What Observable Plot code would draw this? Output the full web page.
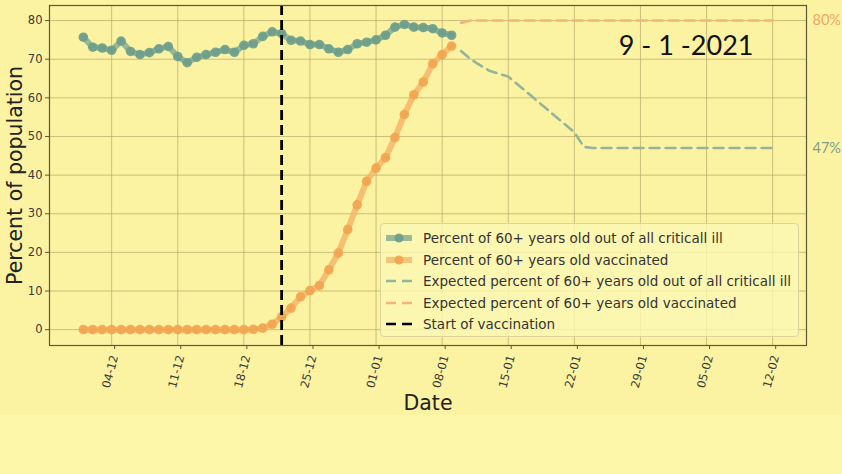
<!DOCTYPE html>
<html><head><meta charset="utf-8">
<script src="https://cdn.jsdelivr.net/npm/d3@7"></script>
<script src="https://cdn.jsdelivr.net/npm/@observablehq/plot@0.6"></script>
<style>
html,body{margin:0;padding:0;background:#fdf7aa;}
#wrap{position:relative;width:842px;height:474px;overflow:hidden;}
#band{position:absolute;left:0;top:0;width:842px;height:415px;background:#fbf3a2;}
#wrap > svg{position:absolute;left:0;top:0;z-index:1;}
#legend{position:absolute;z-index:2;left:380px;top:223px;width:419px;height:114px;box-sizing:border-box;border:1px solid #ddd49c;border-radius:4px;background:rgba(253,248,180,0.8);font-family:"DejaVu Sans";font-size:13.5px;color:#333;}
.row{position:absolute;left:0;height:20px;display:flex;align-items:center;white-space:nowrap;}
.row svg{margin-left:4px;margin-right:10px;}
</style>
</head><body>
<div id="wrap"><div id="band"></div></div>
<script>
// ---- data ----
const startDate = "2020-12-01";
const criticalShare = [75.7,73.1,72.9,72.3,74.7,72.0,71.2,71.7,72.7,73.3,70.7,69.1,70.5,71.2,71.8,72.5,71.8,73.6,74.0,75.9,77.1,76.6,74.9,74.7,73.8,73.8,72.7,71.8,72.5,74.0,74.4,75.0,76.2,78.3,79.0,78.3,78.2,77.9,76.8,76.2];
const vaccinated = [0,0,0,0,0,0,0,0,0,0,0,0,0,0,0,0,0,0,0.1,0.4,1.4,3.3,5.6,8.5,10.1,11.4,15.5,19.8,25.9,32.3,38.4,41.8,44.5,49.7,55.7,60.8,64.1,68.8,71.2,73.4];
const expCriticalDates = ["2021-01-10","2021-01-11","2021-01-13","2021-01-15","2021-01-22","2021-01-23","2021-01-24","2021-02-12"];
const expCritical = [72.1,70.0,67.0,65.5,51.1,47.3,47.0,47.0];
const expVaccDates = ["2021-01-10","2021-01-11","2021-02-12"];
const expVacc = [79.4,80,80];
const vaccinationStart = "2020-12-22";
const xTickLabels = ["2020-12-04","2020-12-11","2020-12-18","2020-12-25","2021-01-01","2021-01-08","2021-01-15","2021-01-22","2021-01-29","2021-02-05","2021-02-12"];
const yTicks = [0,10,20,30,40,50,60,70,80];
const dateLabel = "9 - 1 -2021";
const legendLabels = [
  "Percent of 60+ years old out of all criticall ill",
  "Percent of 60+ years old vaccinated",
  "Expected percent of 60+ years old out of all criticall ill",
  "Expected percent of 60+ years old vaccinated",
  "Start of vaccination"
];

// ---- colors ----
const cGreenDot = "#6b9d8b", cGreenLine = "#7fa993", cGreenDash = "#94b59b";
const cOrangeDot = "#f2a44f", cOrangeLine = "#f4b56a", cOrangeDash = "#f5b37c";

const parse = d3.utcParse("%Y-%m-%d");
const start = parse(startDate);
const days = criticalShare.map((_, i) => d3.utcDay.offset(start, i));
const observed = days.map((d, i) => ({date: d, crit: criticalShare[i], vacc: vaccinated[i]}));
const expC = expCriticalDates.map((d, i) => ({date: parse(d), v: expCritical[i]}));
const expV = expVaccDates.map((d, i) => ({date: parse(d), v: expVacc[i]}));
const xTicks = xTickLabels.map(parse);

const xDomain = [new Date(Date.UTC(2020,10,27,10)), new Date(Date.UTC(2021,1,15,14))];

const chart = Plot.plot({
  width: 842, height: 474,
  marginLeft: 49, marginRight: 36, marginTop: 5, marginBottom: 129,
  style: {background: "transparent", fontFamily: "DejaVu Sans", color: "#3a3a3a", overflow: "visible"},
  x: {type: "utc", domain: xDomain},
  y: {domain: [-4.1, 83.9]},
  marks: [
    Plot.gridY(yTicks, {stroke: "#b9ae6c", strokeOpacity: 0.75, strokeWidth: 1}),
    Plot.gridX(xTicks, {stroke: "#b9ae6c", strokeOpacity: 0.75, strokeWidth: 1}),
    Plot.line(expC, {x: "date", y: "v", stroke: cGreenDash, strokeWidth: 2.6, strokeDasharray: "10,6"}),
    Plot.line(expV, {x: "date", y: "v", stroke: cOrangeDash, strokeWidth: 2.6, strokeDasharray: "10,6"}),
    Plot.line(observed, {x: "date", y: "crit", stroke: cGreenLine, strokeWidth: 6, strokeOpacity: 0.8}),
    Plot.dot(observed, {x: "date", y: "crit", r: 4.8, fill: cGreenDot, fillOpacity: 0.9}),
    Plot.line(observed, {x: "date", y: "vacc", stroke: cOrangeLine, strokeWidth: 6, strokeOpacity: 0.85}),
    Plot.dot(observed, {x: "date", y: "vacc", r: 4.8, fill: cOrangeDot, fillOpacity: 0.9}),
    Plot.ruleX([parse(vaccinationStart)], {stroke: "#000", strokeWidth: 2.8, strokeDasharray: "10,5"}),
    Plot.frame({stroke: "#5d5838", strokeWidth: 1.2}),
    Plot.axisY(yTicks, {tickSize: 4, tickPadding: 3, fontSize: 11.5, label: null, stroke: "#5d5838"}),
    Plot.axisX(xTicks, {tickSize: 4, tickPadding: 6, tickRotate: -75, fontSize: 11.5, label: null, tickFormat: d3.utcFormat("%d-%m"), stroke: "#5d5838", dx: 3}),
    Plot.text(["Percent of population"], {frameAnchor: "left", textAnchor: "middle", lineAnchor: "middle", dx: -34, rotate: -90, fontSize: 20.5, fill: "#222"}),
    Plot.text(["Date"], {frameAnchor: "bottom", lineAnchor: "middle", dy: 58, fontSize: 20.5, fill: "#222"}),
    Plot.text([expVacc[expVacc.length - 1]], {y: d => d, text: d => d + "%", frameAnchor: "right", textAnchor: "start", dx: 6, fill: "#efa668", fontSize: 14.5, fontFamily: "Lato"}),
    Plot.text([expCritical[expCritical.length - 1]], {y: d => d, text: d => d + "%", frameAnchor: "right", textAnchor: "start", dx: 6, fill: "#7f9e8a", fontSize: 14.5, fontFamily: "Lato"}),
    Plot.text([dateLabel], {frameAnchor: "top-right", textAnchor: "end", lineAnchor: "middle", dx: -53, dy: 41, fontSize: 27, fontFamily: "Lato", fill: "#111"})
  ]
});
document.getElementById("wrap").appendChild(chart);

// ---- legend ----
const legend = document.createElement("div");
legend.id = "legend";
const handles = [
  {stroke: cGreenLine, w: 6, dash: null, dot: cGreenDot},
  {stroke: cOrangeLine, w: 6, dash: null, dot: cOrangeDot},
  {stroke: cGreenDash, w: 2.4, dash: "10,6", dot: null},
  {stroke: cOrangeDash, w: 2.4, dash: "10,6", dot: null},
  {stroke: "#000", w: 2.6, dash: "10,6", dot: null}
];
legendLabels.forEach((lab, i) => {
  const h = handles[i];
  const row = document.createElement("div");
  row.className = "row";
  row.style.top = (4 + i * 21.6) + "px";
  row.innerHTML = `<svg width="28" height="20"><line x1="1" x2="27" y1="10" y2="10" stroke="${h.stroke}" stroke-width="${h.w}" ${h.dash ? `stroke-dasharray="${h.dash}"` : ""} ${h.dot ? 'stroke-opacity="0.8"' : ""}/>${h.dot ? `<circle cx="14" cy="10" r="4.5" fill="${h.dot}" fill-opacity="0.9"/>` : ""}</svg><span>${lab}</span>`;
  legend.appendChild(row);
});
document.getElementById("wrap").appendChild(legend);
</script>
</body></html>
